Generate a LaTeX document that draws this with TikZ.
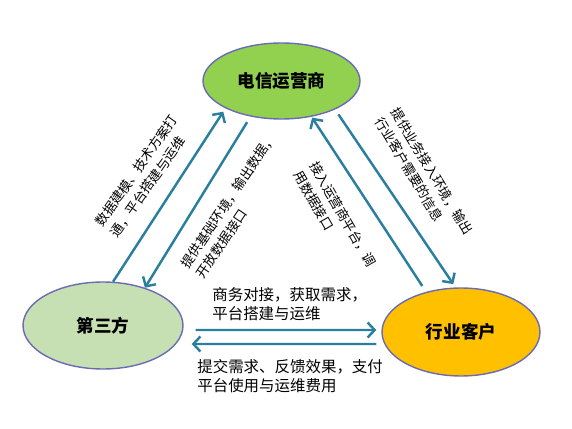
\documentclass[tikz,border=0pt]{standalone}
\usepackage{fontspec}
\setmainfont{Noto Sans CJK SC}
\usepackage{tikz}
\usetikzlibrary{shapes.geometric, positioning, arrows.meta, calc}

\definecolor{telgreen}{HTML}{92D050}
\definecolor{thirdgreen}{HTML}{C6E0B4}
\definecolor{clientgold}{HTML}{FFC000}
\definecolor{partyedge}{HTML}{6B6BB3}
\definecolor{flowblue}{HTML}{2A7F9E}

\begin{document}
\begin{tikzpicture}[x=0.02cm, y=-0.02cm, >={Straight Barb[length=1.4mm, width=3mm]},
  party/.style={ellipse, draw=partyedge, line width=0.8pt, inner sep=0pt, font=\fontsize{10}{12}\selectfont\bfseries},
  flow/.style={->, line width=1.4pt, draw=flowblue},
  duty/.style={font=\fontsize{7.5}{10.5}\selectfont, align=left, inner sep=0pt},
  deal/.style={font=\fontsize{8.8}{10.8}\selectfont, align=left, inner sep=0pt, anchor=west}]

  \useasboundingbox (0,0) rectangle (572,429);

  \node[party, fill=telgreen, minimum width=3.14cm, minimum height=1.52cm] (tel) at (281.5,81) {电信运营商};
  \node[party, fill=thirdgreen, minimum width=3.2cm, minimum height=1.74cm] (third) at (103,325.5) {第三方};
  \node[party, fill=clientgold, minimum width=3.16cm, minimum height=1.76cm] (client) at (461,332) {行业客户};

  \draw[flow, shorten >=0.08cm] (third.77) -- (tel.206);
  \draw[flow, shorten <=0.13cm] (tel.229) -- (third.42);
  \draw[flow, shorten <=0.14cm, shorten >=0.02cm] (client.131) -- (tel.310);
  \draw[flow, shorten <=0.12cm, shorten >=0.08cm] (tel.332) -- (client.97);

  \draw[flow] ([xshift=0.24cm, yshift=-0.09cm]third.east) -- ([xshift=-0.1cm, yshift=0.04cm]client.west);
  \draw[flow] ([xshift=-0.1cm, yshift=-0.24cm]client.west) -- ([xshift=0.16cm, yshift=-0.37cm]third.east);

  \node[duty, rotate=55] (lab-model) at (144,176) {数据建模、技术方案打\\通，平台搭建与运维};
  \node[duty, rotate=56] (lab-base) at (236,206) {提供基础环境，输出数据，\\开放数据接口};
  \node[duty, rotate=-60] (lab-access) at (335,219) {接入运营商平台，调\\用数据接口};
  \node[duty, rotate=-59] (lab-info) at (424,176) {提供业务接入环境，输出\\行业客户需要的信息};

  \node[deal] (lab-deal) at (212,304.5) {商务对接，获取需求，\\平台搭建与运维};
  \node[deal] (lab-pay) at (197,376) {提交需求、反馈效果，支付\\平台使用与运维费用};

\end{tikzpicture}
\end{document}
